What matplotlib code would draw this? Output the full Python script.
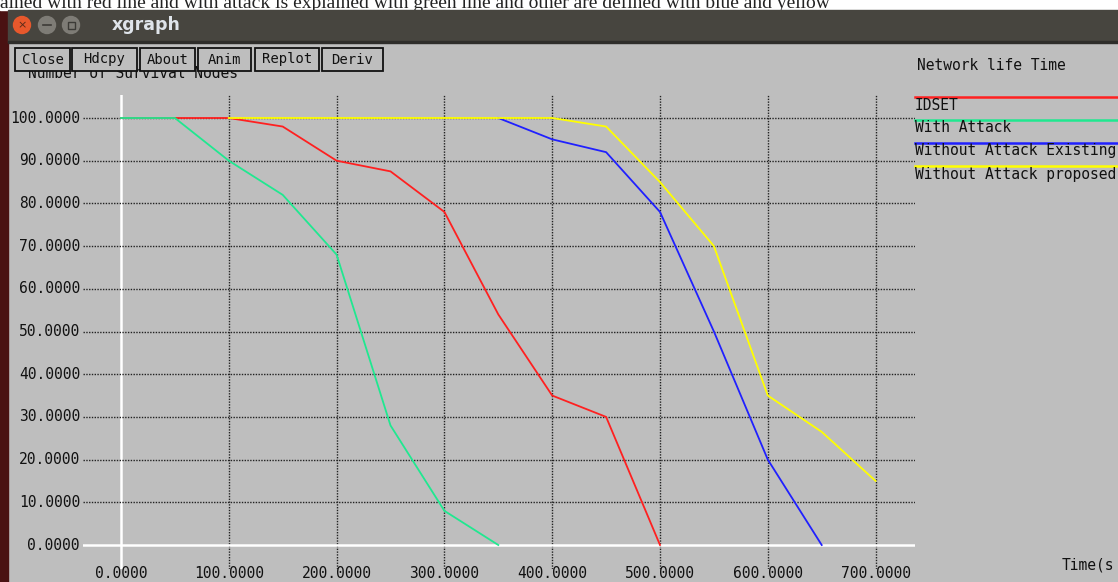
import matplotlib
matplotlib.use("Agg")
import matplotlib.pyplot as plt
from matplotlib.patches import Rectangle, Circle

W, H = 1118, 582

# ---------------- data ----------------
idset_x = [0, 100, 150, 200, 250, 300, 350, 400, 450, 500]
idset_y = [100, 100, 98, 90, 87.5, 78, 54, 35, 30, 0]

attack_x = [0, 50, 100, 150, 200, 250, 300, 350]
attack_y = [100, 100, 90, 82, 68, 28, 8, 0]

existing_x = [350, 400, 450, 500, 550, 600, 650]
existing_y = [100, 95, 92, 78, 50, 20, 0]

proposed_x = [100, 400, 450, 500, 550, 600, 650, 700]
proposed_y = [100, 100, 98, 85, 70, 35, 26.5, 15]

series_names = ["IDSET", "With Attack", "Without Attack Existing", "Without Attack proposed"]
series_colors = ["#ff2020", "#20e890", "#2020ff", "#ffff00"]

x_ticks = [0, 100, 200, 300, 400, 500, 600, 700]
y_ticks = [0, 10, 20, 30, 40, 50, 60, 70, 80, 90, 100]

BG = "#bebebe"
MONO = ["DejaVu Sans Mono"]

fig = plt.figure(figsize=(W / 100, H / 100), dpi=100)
fig.patch.set_facecolor(BG)

def fx(px):
    return px / W

def fy(py):
    return 1 - py / H

# overlay axes in pixel coordinates for window chrome
chrome = fig.add_axes([0, 0, 1, 1], zorder=5)
chrome.set_xlim(0, W)
chrome.set_ylim(H, 0)
chrome.axis("off")
chrome.patch.set_alpha(0)

# ---------------- plot axes ----------------
L, R, T, B = 83, 915, 95, 569
ax = fig.add_axes([fx(L), fy(B), (R - L) / W, (B - T) / H], zorder=1)
ax.set_facecolor(BG)
x0_px, x100_px = 121, 228.8
y0_px, y100_px = 545, 118
sx = (x100_px - x0_px) / 100
sy = (y0_px - y100_px) / 100
ax.set_xlim((L - x0_px) / sx, (R - x0_px) / sx)
ax.set_ylim((y0_px - B) / sy, (y0_px - T) / sy)
for s in ax.spines.values():
    s.set_visible(False)
ax.set_xticks([])
ax.set_yticks([])

# grid lines
for xv in x_ticks:
    if xv == 0:
        ax.axvline(xv, color="white", lw=1.8, zorder=1)
    else:
        ax.axvline(xv, color="#222222", lw=1.0, ls=(0, (1, 1)), zorder=1)
for yv in y_ticks:
    if yv == 0:
        ax.axhline(yv, color="white", lw=1.8, zorder=1)
    else:
        ax.axhline(yv, color="#222222", lw=1.0, ls=(0, (1, 1)), zorder=1)

# series (drawn in xgraph order)
for xs, ys, c in zip([idset_x, attack_x, existing_x, proposed_x],
                     [idset_y, attack_y, existing_y, proposed_y], series_colors):
    ax.plot(xs, ys, color=c, lw=1.3, zorder=3)

# tick labels
for yv in y_ticks:
    py = y0_px - yv * sy
    chrome.text(80, py, f"{yv:.4f}", ha="right", va="center", fontsize=10.5,
                family=MONO, color="#111111")
for xv in x_ticks:
    px = x0_px + xv * sx
    chrome.text(px, 573, f"{xv:.4f}", ha="center", va="center", fontsize=10.5,
                family=MONO, color="#111111")

# axis titles
chrome.text(28, 74, "Number of Survival Nodes", ha="left", va="center", fontsize=10.5,
            family=MONO, color="#111111")
chrome.text(917, 65, "Network life Time", ha="left", va="center", fontsize=10.5,
            family=MONO, color="#111111")
chrome.text(1062, 565, "Time(s", ha="left", va="center", fontsize=10.5,
            family=MONO, color="#111111")

# legend
leg_y = [97, 120, 143, 166]
for name, c, ly in zip(series_names, series_colors, leg_y):
    chrome.plot([915, W], [ly, ly], color=c, lw=1.8)
    chrome.text(915, ly + 8, name, ha="left", va="center", fontsize=10.5,
                family=MONO, color="#111111")

# left desktop border
chrome.add_patch(Rectangle((0, 10), 8, H - 10, color="#4a1212", zorder=6))

# top strip (document text behind window, partly hidden)
chrome.add_patch(Rectangle((0, 0), W, 10, color="white", zorder=6))
chrome.text(0, 7.5, "ained with red line and with attack is explained with green line and other are defined with blue and yellow",
            ha="left", va="baseline", fontsize=14, family=["Liberation Serif"], color="#222222",
            zorder=7)

# title bar
chrome.add_patch(Rectangle((8, 10), W - 8, 32, color="#47453f", zorder=8))
chrome.add_patch(Rectangle((8, 41), W - 8, 1.5, color="#2e2d2a", zorder=8))
chrome.add_patch(Circle((22, 25), 8.5, color="#e8582c", zorder=9))
chrome.text(22, 25, "×", ha="center", va="center", fontsize=8, color="#5a2a18", zorder=10)
chrome.add_patch(Circle((47, 25), 8.5, color="#7e7c76", zorder=9))
chrome.plot([43, 51], [25, 25], color="#3c3b37", lw=1.2, zorder=10)
chrome.add_patch(Circle((71, 25), 8.5, color="#7e7c76", zorder=9))
chrome.add_patch(Rectangle((67.5, 21.5), 7, 7, fill=False, ec="#3c3b37", lw=1, zorder=10))
chrome.text(112, 25, "xgraph", ha="left", va="center", fontsize=12.5, weight="bold",
            family="DejaVu Sans", color="#dfe4ea", zorder=10)

# buttons
buttons = ["Close", "Hdcpy", "About", "Anim", "Replot", "Deriv"]
btn_x = [(15, 70), (72, 137), (140, 195), (198, 251), (255, 319), (322, 383)]
for lab, (a, b) in zip(buttons, btn_x):
    chrome.add_patch(Rectangle((a, 48), b - a, 23, fill=True, fc=BG, ec="#111111",
                               lw=1.3, zorder=7))
    chrome.text((a + b) / 2, 59.5, lab, ha="center", va="center", fontsize=10,
                family=MONO, color="#111111", zorder=8)

fig.savefig("out.png", dpi=100, facecolor=fig.get_facecolor())
